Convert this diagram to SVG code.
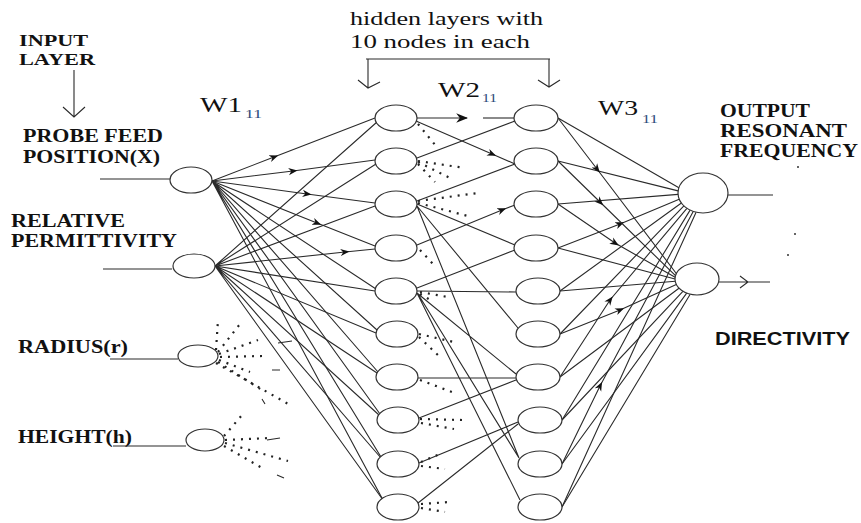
<svg xmlns="http://www.w3.org/2000/svg" width="861" height="523" viewBox="0 0 861 523">
<style>
.n{fill:#fff;stroke:#333;stroke-width:1.2}
.c{fill:none;stroke:#2a2a2a;stroke-width:1.1}
.d{fill:none;stroke:#222;stroke-width:2.2;stroke-dasharray:2 6}
.lb{font-family:"Liberation Serif",serif;font-weight:bold;font-size:18px;fill:#111}
.sm{font-size:16px}
.sb{font-family:"Liberation Sans",Arial,sans-serif;font-weight:bold;font-size:18px;fill:#111}
.t{font-family:"Liberation Serif",serif;font-size:19px;fill:#111}
.w{font-family:"Liberation Serif",serif;font-size:22px;fill:#111}
.s{font-family:"Liberation Serif",serif;font-size:13px;fill:#2d4a7a}
</style>
<defs>
<marker id="a" viewBox="0 0 10 10" refX="5" refY="5" markerWidth="9" markerHeight="9" markerUnits="userSpaceOnUse" orient="auto">
<path d="M0,1 L10,5 L0,9 L3,5 z" fill="#111"/>
</marker>
<marker id="e" viewBox="0 0 10 10" refX="9" refY="5" markerWidth="12" markerHeight="12" markerUnits="userSpaceOnUse" orient="auto">
<path d="M0,1 L10,5 L0,9 L3,5 z" fill="#111"/>
</marker>
</defs>
<rect width="861" height="523" fill="#fff"/>

<g id="labels">
<text class="lb sm" x="19" y="46" textLength="69" lengthAdjust="spacingAndGlyphs">INPUT</text>
<text class="lb sm" x="19" y="65" textLength="76" lengthAdjust="spacingAndGlyphs">LAYER</text>
<text class="lb" x="23" y="142" textLength="140" lengthAdjust="spacingAndGlyphs">PROBE FEED</text>
<text class="lb" x="23" y="163" textLength="137" lengthAdjust="spacingAndGlyphs">POSITION(X)</text>
<text class="lb" x="11" y="227" textLength="114" lengthAdjust="spacingAndGlyphs">RELATIVE</text>
<text class="lb" x="11" y="247" textLength="166" lengthAdjust="spacingAndGlyphs">PERMITTIVITY</text>
<text class="lb" x="18" y="353" textLength="110" lengthAdjust="spacingAndGlyphs">RADIUS(r)</text>
<text class="lb" x="18" y="443" textLength="114" lengthAdjust="spacingAndGlyphs">HEIGHT(h)</text>
<text class="lb" x="720" y="117" textLength="90" lengthAdjust="spacingAndGlyphs">OUTPUT</text>
<text class="lb" x="720" y="137" textLength="127" lengthAdjust="spacingAndGlyphs">RESONANT</text>
<text class="lb" x="720" y="157" textLength="138" lengthAdjust="spacingAndGlyphs">FREQUENCY</text>
<text class="sb" x="715" y="345" textLength="135" lengthAdjust="spacingAndGlyphs">DIRECTIVITY</text>
<text class="t" x="350" y="25" textLength="193" lengthAdjust="spacingAndGlyphs">hidden layers with</text>
<text class="t" x="350" y="48" textLength="180" lengthAdjust="spacingAndGlyphs">10 nodes in each</text>
<text class="w" x="200" y="112" textLength="42" lengthAdjust="spacingAndGlyphs">W1</text>
<text class="s" x="245" y="118" textLength="17" lengthAdjust="spacingAndGlyphs">11</text>
<text class="w" x="438" y="97" textLength="42" lengthAdjust="spacingAndGlyphs">W2</text>
<text class="s" x="482" y="102" textLength="15" lengthAdjust="spacingAndGlyphs">11</text>
<text class="w" x="598" y="115" textLength="40" lengthAdjust="spacingAndGlyphs">W3</text>
<text class="s" x="642" y="123" textLength="16" lengthAdjust="spacingAndGlyphs">11</text>
</g>

<g id="connectors">
<path class="c" d="M74,70 V117 M63,107 L74,117 L85,107"/>
<path class="c" d="M366,59 H550 M368,59 V88 M358,80 L368,88 L380,82 M549,59 V87 M538,80 L549,87 L560,80"/>
<path class="c" d="M100,179 H170 M103,269 H172 M110,359 H178 M113,446 H186"/>
<path class="c" d="M728,195 H773 M719,282 H770 M740,276 L748,282 L740,288"/>

<path class="c" marker-mid="url(#a)" d="M212,181 L274,157 L375,118"/>
<path class="c" marker-mid="url(#a)" d="M212,181 L293,171 L375,160"/>
<path class="c" marker-mid="url(#a)" d="M212,181 L307,194 L375,203"/>
<path class="c" marker-mid="url(#a)" d="M212,181 L317,223 L375,246"/>
<path class="c" d="M212,181 L376,289 M212,181 L377,330 M212,181 L378,372 M212,181 L380,414 M212,181 L381,457 M212,181 L383,500"/>
<path class="c" d="M215,266 L377,122 M215,266 L376,164 M215,266 L375,206 M215,266 L375,291 M215,266 L376,333 M215,266 L377,373 M215,266 L379,415 M215,266 L381,458 M215,266 L383,500"/>
<path class="c" marker-mid="url(#a)" d="M215,266 L345,252 L375,249"/>

<path class="d" d="M216,350 L218,320 M218,352 L240,324 M219,354 L258,340 M220,357 L262,356 M219,360 L250,372 M218,362 L265,392 M216,363 L290,405"/>
<path class="c" d="M278,343 L292,341 M272,370 L280,370 M262,399 L265,404"/>
<path class="d" d="M224,436 L243,414 M225,440 L270,438 M225,443 L288,461 M224,446 L262,468"/>
<path class="c" d="M267,440 L280,438 M277,475 L284,478"/>

<path class="c" marker-end="url(#e)" d="M417,118 L467,118"/>
<path class="c" d="M483,118 L514,118"/>
<path class="c" marker-mid="url(#a)" d="M416,121 L492,154 L515,164"/>
<path class="c" d="M417,158 L515,121 M417,201 L515,164 M417,204 L515,245"/>
<path class="c" marker-mid="url(#a)" d="M417,245 L502,210 L515,205"/>
<path class="c" d="M417,288 L515,250 M417,291 L516,292 M418,378 L516,378 M419,418 L516,380 M419,463 L518,422 M418,503 L518,424 M417,293 L516,374 M417,293 L520,500 M418,294 L519,458 M417,206 L518,328 M417,206 L519,458"/>

<path class="d" d="M418,124 L436,146 M418,161 L465,168 M418,162 L450,178 M418,164 L435,182 M418,201 L478,193 M418,203 L468,216 M420,250 L434,265 M420,292 L448,297 M420,294 L432,301 M419,334 L458,343 M419,337 L441,358 M420,380 L452,392 M420,419 L462,420 M421,423 L454,429 M421,462 L442,453 M421,466 L445,469 M421,504 L450,502 M421,508 L445,512"/>

<path class="c" d="M558,118 L678.9,187.8 M558,161 L678.1,190.9 M558,204 L678.1,194.4 M560,291 L681.4,203 M560,334 L683.9,205.9 M562,420 L690.1,210.1 M562,507 L696.1,212.2"/>
<path class="c" marker-mid="url(#a)" d="M558,248 L620,224 L679.2,199.2"/>
<path class="c" marker-mid="url(#a)" d="M560,377 L610,300 L686.9,208.3"/>
<path class="c" marker-mid="url(#a)" d="M562,464 L600,386 L693.2,211.4"/>
<path class="c" marker-mid="url(#a)" d="M558,118 L597,169 L676.3,273.5"/>
<path class="c" marker-mid="url(#a)" d="M558,161 L600,202 L675.5,275.7"/>
<path class="c" marker-mid="url(#a)" d="M558,204 L615,243 L675.1,277.3"/>
<path class="c" d="M558,248 L675,279 M560,291 L675.2,281.2 M560,377 L679,288.2 M562,420 L682.9,291.3 M562,464 L686.7,293.1 M562,507 L690.2,294.2"/>
<path class="c" marker-mid="url(#a)" d="M560,334 L620,310 L676.3,284.5"/>
<circle cx="798" cy="167" r="1" fill="#333"/>
<circle cx="795" cy="234" r="1" fill="#333"/>
<circle cx="788" cy="255" r="1" fill="#333"/>
</g>

<g id="in1"><ellipse class="n" cx="191" cy="180" rx="21" ry="13"/></g>
<g id="in2"><ellipse class="n" cx="194" cy="266" rx="21" ry="12"/></g>
<g id="in3"><ellipse class="n" cx="198" cy="356" rx="20" ry="11"/></g>
<g id="in4"><ellipse class="n" cx="205" cy="440" rx="19" ry="11"/></g>

<g id="h1_1"><ellipse class="n" cx="396" cy="118" rx="21" ry="13"/></g>
<g id="h1_2"><ellipse class="n" cx="396" cy="161" rx="21" ry="13"/></g>
<g id="h1_3"><ellipse class="n" cx="396" cy="204" rx="21" ry="13"/></g>
<g id="h1_4"><ellipse class="n" cx="396" cy="248" rx="21" ry="13"/></g>
<g id="h1_5"><ellipse class="n" cx="396" cy="291" rx="21" ry="13"/></g>
<g id="h1_6"><ellipse class="n" cx="397" cy="334" rx="21" ry="13"/></g>
<g id="h1_7"><ellipse class="n" cx="397" cy="377" rx="21" ry="13"/></g>
<g id="h1_8"><ellipse class="n" cx="398" cy="420" rx="21" ry="13"/></g>
<g id="h1_9"><ellipse class="n" cx="398" cy="464" rx="21" ry="13"/></g>
<g id="h1_10"><ellipse class="n" cx="398" cy="507" rx="21" ry="13"/></g>

<g id="h2_1"><ellipse class="n" cx="536" cy="118" rx="22" ry="13"/></g>
<g id="h2_2"><ellipse class="n" cx="536" cy="161" rx="22" ry="13"/></g>
<g id="h2_3"><ellipse class="n" cx="536" cy="204" rx="22" ry="13"/></g>
<g id="h2_4"><ellipse class="n" cx="536" cy="248" rx="22" ry="13"/></g>
<g id="h2_5"><ellipse class="n" cx="538" cy="291" rx="22" ry="13"/></g>
<g id="h2_6"><ellipse class="n" cx="538" cy="334" rx="22" ry="13"/></g>
<g id="h2_7"><ellipse class="n" cx="538" cy="377" rx="22" ry="13"/></g>
<g id="h2_8"><ellipse class="n" cx="540" cy="420" rx="22" ry="13"/></g>
<g id="h2_9"><ellipse class="n" cx="540" cy="464" rx="22" ry="13"/></g>
<g id="h2_10"><ellipse class="n" cx="540" cy="507" rx="22" ry="13"/></g>

<g id="out1"><ellipse class="n" cx="703" cy="193" rx="25" ry="20"/></g>
<g id="out2"><ellipse class="n" cx="697" cy="279" rx="22" ry="16"/></g>
</svg>
